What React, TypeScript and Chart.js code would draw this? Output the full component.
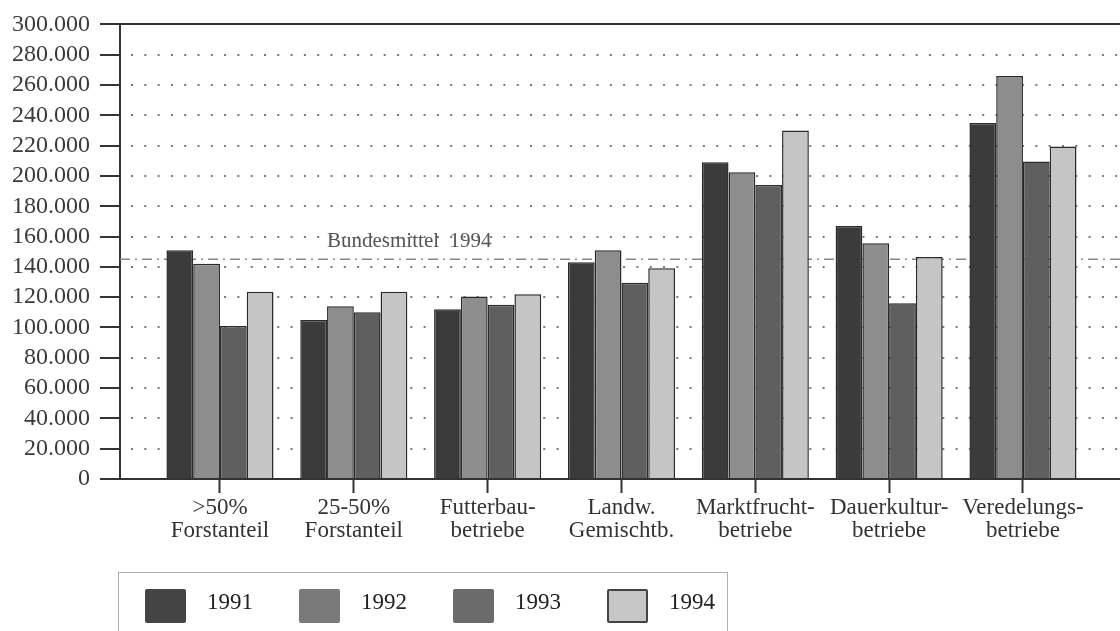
import React, { useEffect, useRef } from 'react';
import { Chart, registerables } from 'chart.js';

Chart.register(...registerables);

const categories: string[][] = [
  ['>50%', 'Forstanteil'],
  ['25-50%', 'Forstanteil'],
  ['Futterbau-', 'betriebe'],
  ['Landw.', 'Gemischtb.'],
  ['Marktfrucht-', 'betriebe'],
  ['Dauerkultur-', 'betriebe'],
  ['Veredelungs-', 'betriebe'],
];

const years = ['1991', '1992', '1993', '1994'];

const values1991 = [151000, 105000, 112000, 143000, 209000, 167000, 235000];
const values1992 = [142000, 114000, 120500, 151000, 202500, 155500, 266000];
const values1993 = [101000, 110000, 115000, 129500, 194000, 116000, 209500];
const values1994 = [123500, 123500, 122000, 139000, 230000, 146500, 219500];

const bundesmittel = 145000;
const bundesLabel = 'Bundesmittel  1994';

const yMin = 0;
const yMax = 300000;
const yStep = 20000;

const xMin = -0.747;
const xMax = 6.725;

const seriesValues = [values1991, values1992, values1993, values1994];
const barColors = ['#3b3b3b', '#8d8d8d', '#5f5f5f', '#c5c5c5'];
const legendColors = ['#444444', '#7a7a7a', '#6b6b6b', '#c6c6c6'];

const FONT = "'Liberation Serif', 'Times New Roman', serif";

function formatThousands(v: number): string {
  return String(Math.round(v)).replace(/\B(?=(\d{3})+(?!\d))/g, '.');
}

const bundesPlugin = {
  id: 'bundesLabel',
  afterDatasetsDraw(chart: any) {
    const { ctx, scales } = chart;
    const x = scales.x;
    const y = scales.y;
    ctx.save();
    ctx.font = `21px ${FONT}`;
    ctx.fillStyle = '#555555';
    ctx.textAlign = 'left';
    ctx.textBaseline = 'alphabetic';
    ctx.fillText(bundesLabel, x.getPixelForValue(0.8), y.getPixelForValue(bundesmittel) - 12);
    ctx.restore();
  },
};

export default function App() {
  const canvasRef = useRef<HTMLCanvasElement | null>(null);

  useEffect(() => {
    const canvas = canvasRef.current;
    if (!canvas) return;

    const barDatasets: any[] = years.map((year, si) => ({
      type: 'bar',
      label: year,
      data: seriesValues[si].map((v, i) => ({ x: i, y: v })),
      backgroundColor: barColors[si],
      borderColor: '#2a2a2a',
      borderWidth: 1.5,
      categoryPercentage: 0.8,
      barPercentage: 1.0,
      xAxisID: 'x',
      yAxisID: 'y',
      order: 0,
    }));

    const lineDataset: any = {
      type: 'line',
      label: bundesLabel,
      data: [
        { x: xMin, y: bundesmittel },
        { x: xMax, y: bundesmittel },
      ],
      borderColor: '#888888',
      borderWidth: 1.5,
      borderDash: [10, 5, 2, 5],
      pointRadius: 0,
      fill: false,
      xAxisID: 'x',
      yAxisID: 'y',
      order: 10,
    };

    const chart = new Chart(canvas, {
      type: 'bar',
      data: { datasets: [...barDatasets, lineDataset] },
      plugins: [bundesPlugin],
      options: {
        animation: false,
        responsive: false,
        devicePixelRatio: 1,
        layout: { padding: { left: 0, right: 0, top: 23, bottom: 0 } },
        plugins: {
          legend: { display: false },
          tooltip: { enabled: false },
        },
        scales: {
          x: {
            type: 'linear',
            position: 'bottom',
            offset: false,
            min: xMin,
            max: xMax,
            afterBuildTicks: (s: any) => {
              s.ticks = categories.map((_, i) => ({ value: i }));
            },
            afterFit: (s: any) => {
              s.height = 152;
            },
            ticks: {
              autoSkip: false,
              includeBounds: false,
              maxRotation: 0,
              minRotation: 0,
              padding: 3,
              color: '#333333',
              font: { family: FONT, size: 23, lineHeight: 1.0 },
              callback: (v: any) => categories[Math.round(Number(v))] ?? '',
            },
            grid: {
              offset: false,
              drawOnChartArea: false,
              drawTicks: true,
              tickLength: 14,
              tickColor: '#333333',
              tickWidth: 2,
              color: '#333333',
            },
            border: { display: true, color: '#333333', width: 2 },
          },
          y: {
            type: 'linear',
            position: 'left',
            min: yMin,
            max: yMax,
            afterFit: (s: any) => {
              s.width = 120;
            },
            ticks: {
              stepSize: yStep,
              autoSkip: false,
              padding: 10,
              color: '#3a3a3a',
              font: { family: FONT, size: 24 },
              callback: (v: any) => formatThousands(Number(v)),
            },
            grid: {
              drawTicks: true,
              tickLength: 20,
              tickWidth: 2,
              tickColor: '#333333',
              lineWidth: 2,
              color: (c: any) => {
                const v = c.tick ? c.tick.value : null;
                if (v === yMax) return '#333333';
                if (v === yMin) return 'rgba(0,0,0,0)';
                return '#7a7a7a';
              },
            },
            border: {
              display: true,
              color: '#333333',
              width: 2,
              dash: (c: any) => {
                const v = c.tick ? c.tick.value : null;
                if (v === yMax) return [];
                return [2, 11.3];
              },
              dashOffset: 3.3,
            },
          },
        },
      } as any,
    });

    return () => {
      chart.destroy();
    };
  }, []);

  return (
    <div
      style={{
        position: 'absolute',
        left: 0,
        top: 0,
        width: 1120,
        height: 631,
        overflow: 'hidden',
        background: '#ffffff',
      }}
    >
      <canvas
        ref={canvasRef}
        width={1120}
        height={631}
        style={{ position: 'absolute', left: 0, top: 0, width: 1120, height: 631 }}
      />
      <div
        style={{
          position: 'absolute',
          left: 118,
          top: 572,
          width: 610,
          height: 90,
          border: '1.5px solid #b0b0b0',
          boxSizing: 'border-box',
          display: 'flex',
          alignItems: 'flex-start',
          paddingLeft: 26,
          paddingTop: 16,
          fontFamily: FONT,
        }}
      >
        {years.map((year, i) => (
          <div
            key={year}
            style={{ width: 154, display: 'flex', alignItems: 'center', flex: '0 0 auto' }}
          >
            <div
              style={{
                width: 41,
                height: 34,
                background: legendColors[i],
                border: i === 3 ? '2px solid #444' : 'none',
                boxSizing: 'border-box',
                borderRadius: 2,
              }}
            />
            <span
              style={{
                marginLeft: 21,
                fontSize: 23,
                color: '#222222',
                position: 'relative',
                top: -4,
                lineHeight: '34px',
              }}
            >
              {year}
            </span>
          </div>
        ))}
      </div>
    </div>
  );
}
